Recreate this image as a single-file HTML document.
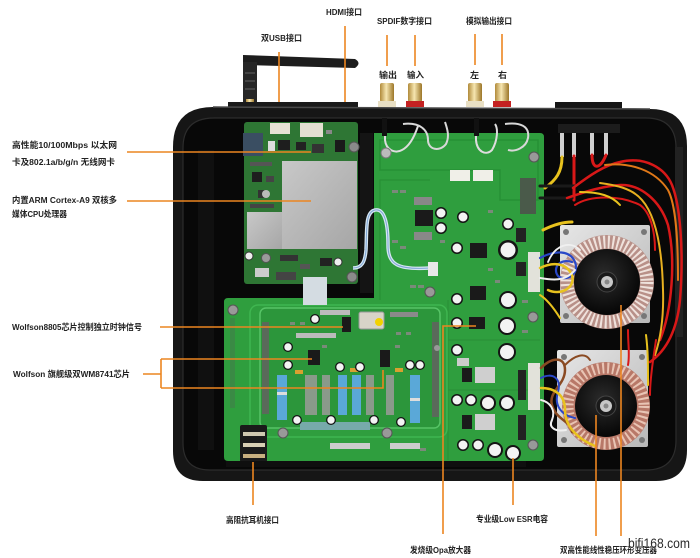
<!DOCTYPE html>
<html><head><meta charset="utf-8">
<style>
html,body{margin:0;padding:0;background:#fff;}
svg{display:block;}
text{font-family:"Liberation Sans","Noto Sans CJK SC",sans-serif;font-size:8.6px;font-weight:bold;fill:#222;}
</style></head><body>
<svg width="700" height="558" viewBox="0 0 700 558" xmlns="http://www.w3.org/2000/svg">
<defs>
<linearGradient id="gold" x1="0" x2="1" y1="0" y2="0">
<stop offset="0" stop-color="#b08a3a"/><stop offset="0.45" stop-color="#f6e6b0"/><stop offset="1" stop-color="#9c7628"/>
</linearGradient>
<linearGradient id="shield" x1="0" y1="0" x2="1" y2="1"><stop offset="0" stop-color="#c8c8c8"/><stop offset="1" stop-color="#a6a6a6"/></linearGradient>
<radialGradient id="disk" cx="0.45" cy="0.4" r="0.6"><stop offset="0" stop-color="#2c2c2c"/><stop offset="1" stop-color="#060606"/></radialGradient>
<linearGradient id="plate" x1="0" y1="0" x2="1" y2="1"><stop offset="0" stop-color="#e6e6e6"/><stop offset="1" stop-color="#b8b8b8"/></linearGradient>
</defs>
<rect width="700" height="558" fill="#fff"/>

<!-- antenna -->
<path d="M243,55 L355,59 Q362,63 355,68 L243,65 Z" fill="#1d1d1d"/>
<rect x="243" y="62" width="14" height="40" fill="#262626"/>
<rect x="245" y="72" width="10" height="2" fill="#444"/><rect x="245" y="80" width="10" height="2" fill="#444"/><rect x="245" y="88" width="10" height="2" fill="#444"/>
<rect x="246" y="99" width="8" height="7" fill="url(#gold)"/>

<!-- RCA jacks -->
<rect x="380" y="83" width="14" height="19" rx="2" fill="url(#gold)"/><rect x="378" y="101" width="18" height="6" fill="#e8dfc4"/>
<rect x="408" y="83" width="14" height="19" rx="2" fill="url(#gold)"/><rect x="406" y="101" width="18" height="6" fill="#c42222"/>
<rect x="468" y="83" width="14" height="19" rx="2" fill="url(#gold)"/><rect x="466" y="101" width="18" height="6" fill="#e8dfc4"/>
<rect x="495" y="83" width="14" height="19" rx="2" fill="url(#gold)"/><rect x="493" y="101" width="18" height="6" fill="#c42222"/>
<rect x="555" y="102" width="67" height="9" fill="#161616"/>
<rect x="228" y="102" width="130" height="5" fill="#1a1a1a"/>

<!-- case -->
<path d="M213,107 L650,109 Q687,109 687,146 L687,450 Q687,481 656,481 L203,481 Q173,481 173,451 L173,147 Q173,107 213,107 Z" fill="#161616"/>
<path d="M213,107 L650,109" stroke="#4a4a4a" stroke-width="1.5" fill="none"/>
<path d="M214,118 L646,118 Q676,118 676,148 L676,440 Q676,470 646,470 L210,470 Q183,470 183,443 L183,148 Q183,118 214,118 Z" fill="#080808" stroke="#2c2c2c" stroke-width="1.2"/>
<rect x="198" y="150" width="16" height="300" fill="#101010"/>
<rect x="675" y="147" width="8" height="190" fill="#222"/>

<!-- network board -->
<rect x="244" y="122" width="114" height="162" rx="3" fill="#2e7634"/>
<rect x="270" y="123" width="20" height="11" fill="#e6e2d4"/>
<rect x="300" y="123" width="23" height="14" fill="#e4e0d2"/>
<rect x="243" y="133" width="20" height="23" fill="#3a4e62"/>
<rect x="268" y="141" width="7" height="10" fill="#ddd"/>
<rect x="278" y="140" width="12" height="10" fill="#1e1e1e"/>
<rect x="296" y="142" width="10" height="8" fill="#222"/>
<rect x="312" y="144" width="12" height="9" fill="#333"/>
<rect x="335" y="140" width="10" height="12" fill="#1a1a1a"/>
<rect x="326" y="130" width="6" height="4" fill="#888"/>
<rect x="250" y="162" width="22" height="4" fill="#555"/>
<rect x="252" y="172" width="10" height="10" fill="#1e1e1e"/>
<rect x="266" y="176" width="8" height="6" fill="#444"/>
<rect x="258" y="190" width="8" height="8" fill="#333"/>
<circle cx="266" cy="194" r="4" fill="#bbb"/>
<rect x="250" y="204" width="24" height="4" fill="#444"/>
<rect x="282" y="161" width="75" height="88" fill="url(#shield)"/>
<rect x="247" y="212" width="35" height="37" fill="url(#shield)"/>
<circle cx="354" cy="147" r="5" fill="#8a8a8a" stroke="#555"/>
<circle cx="266" cy="258" r="4.5" fill="#9a9a9a" stroke="#555"/>
<circle cx="352" cy="277" r="5" fill="#8a8a8a" stroke="#555"/>
<circle cx="249" cy="256" r="4" fill="#eee" stroke="#333"/>
<circle cx="338" cy="262" r="4" fill="#eee" stroke="#333"/>
<rect x="280" y="255" width="18" height="6" fill="#333"/>
<rect x="255" y="268" width="14" height="9" fill="#ccc"/>
<rect x="276" y="272" width="20" height="8" fill="#444"/>
<rect x="320" y="258" width="12" height="8" fill="#222"/>
<rect x="300" y="264" width="10" height="5" fill="#555"/>
<rect x="360" y="133" width="13" height="160" fill="#141414"/>

<!-- main board -->
<path d="M374,133 L540,133 Q544,133 544,137 L544,457 Q544,461 540,461 L228,461 Q224,461 224,457 L224,302 Q224,298 228,298 L374,298 Z" fill="#2f9e3e"/>
<path d="M380,140 L538,140 L538,200 L500,200 L500,170 L380,170 Z" fill="none" stroke="#279035" stroke-width="1.5"/>
<path d="M380,300 L380,180 L430,180" fill="none" stroke="#279035" stroke-width="1.2"/>
<path d="M448,300 L448,460 M448,340 L540,340 M448,390 L540,390" fill="none" stroke="#2a9238" stroke-width="1.2"/>
<rect x="250" y="305" width="197" height="132" rx="8" fill="none" stroke="#3fb650" stroke-width="1.5"/>
<rect x="260" y="308" width="180" height="120" rx="6" fill="#2c963b" stroke="#56c466" stroke-width="1.5"/>
<rect x="262" y="322" width="7" height="92" fill="#5a6a5a"/>
<rect x="432" y="322" width="7" height="95" fill="#5a6a5a"/>
<rect x="230" y="318" width="5" height="90" fill="#3a8a45"/>

<!-- small smd texture -->
<g fill="#7a8a7a">
<rect x="392" y="190" width="6" height="3"/><rect x="400" y="190" width="6" height="3"/><rect x="392" y="240" width="6" height="3"/><rect x="400" y="246" width="6" height="3"/>
<rect x="440" y="240" width="5" height="3"/><rect x="488" y="210" width="5" height="3"/><rect x="488" y="268" width="5" height="3"/><rect x="495" y="280" width="5" height="3"/>
<rect x="410" y="285" width="6" height="3"/><rect x="418" y="285" width="6" height="3"/><rect x="522" y="300" width="6" height="3"/><rect x="522" y="330" width="6" height="3"/>
<rect x="290" y="322" width="5" height="3"/><rect x="300" y="322" width="5" height="3"/><rect x="396" y="332" width="5" height="3"/><rect x="406" y="332" width="5" height="3"/>
<rect x="322" y="345" width="5" height="3"/><rect x="395" y="345" width="5" height="3"/><rect x="240" y="440" width="5" height="3"/><rect x="420" y="448" width="6" height="3"/>
</g>

<!-- ribbon cable & blue cable -->
<rect x="303" y="277" width="24" height="28" fill="#d4dce2"/>
<path d="M353,268 C362,268 365,262 366,250 C367,230 365,212 375,210 C385,208 388,225 388,245 C388,265 398,270 430,268" fill="none" stroke="#d6e6f2" stroke-width="3.5"/>
<path d="M353,268 C362,268 365,262 366,250 C367,230 365,212 375,210 C385,208 388,225 388,245 C388,265 398,270 430,268" fill="none" stroke="#7fa6d6" stroke-width="1"/>
<rect x="428" y="262" width="10" height="14" fill="#e8e8e8"/>

<!-- wire loops top of main board -->
<path d="M385,120 L385,140 C386,150 395,154 402,150 C410,146 415,135 418,126" fill="none" stroke="#ddd" stroke-width="2"/>
<path d="M403,124 C420,122 428,130 428,140 C428,150 440,152 446,144 C450,136 447,128 445,122" fill="none" stroke="#d8d8d8" stroke-width="2"/>
<path d="M476,120 L476,140 C477,152 486,156 492,150 C498,140 498,128 495,124" fill="none" stroke="#ddd" stroke-width="2"/>
<path d="M505,124 C520,122 530,126 528,138 C526,148 515,152 508,150" fill="none" stroke="#d8d8d8" stroke-width="2"/>
<rect x="382" y="118" width="5" height="18" fill="#111"/><rect x="474" y="118" width="5" height="18" fill="#111"/>
<circle cx="386" cy="153" r="5" fill="#bbb" stroke="#777"/>
<circle cx="534" cy="157" r="5" fill="#999" stroke="#555"/>
<rect x="450" y="170" width="20" height="11" fill="#f0efe8"/>
<rect x="473" y="170" width="20" height="11" fill="#f0efe8"/>
<rect x="520" y="178" width="16" height="36" fill="#4a5a4a"/>
<rect x="414" y="197" width="18" height="8" fill="#888"/>
<rect x="415" y="210" width="18" height="16" fill="#1a1a1a"/>
<rect x="414" y="232" width="18" height="8" fill="#888"/>
<rect x="470" y="243" width="17" height="15" fill="#1a1a1a"/>
<rect x="470" y="286" width="16" height="14" fill="#1a1a1a"/>
<rect x="469" y="317" width="16" height="12" fill="#1a1a1a"/>
<rect x="516" y="228" width="10" height="14" fill="#222"/>
<rect x="516" y="262" width="10" height="14" fill="#222"/>
<rect x="475" y="367" width="20" height="16" fill="#cfcfcf"/>
<rect x="475" y="414" width="20" height="16" fill="#cfcfcf"/>
<rect x="462" y="368" width="10" height="14" fill="#1a1a1a"/>
<rect x="462" y="415" width="10" height="14" fill="#1a1a1a"/>
<rect x="457" y="358" width="12" height="8" fill="#ccc"/>
<rect x="518" y="370" width="8" height="30" fill="#222"/>
<rect x="518" y="415" width="8" height="25" fill="#222"/>
<rect x="528" y="252" width="12" height="40" fill="#e2e2da"/>
<rect x="528" y="363" width="12" height="47" fill="#e2e2da"/>
<circle cx="430" cy="292" r="5" fill="#999" stroke="#555"/>
<circle cx="533" cy="317" r="5" fill="#999" stroke="#555"/>
<circle cx="533" cy="445" r="5" fill="#999" stroke="#555"/>
<circle cx="233" cy="310" r="5" fill="#999" stroke="#555"/>
<circle cx="283" cy="433" r="5" fill="#999" stroke="#555"/>
<circle cx="387" cy="433" r="5" fill="#999" stroke="#555"/>
<circle cx="437" cy="348" r="3" fill="#999"/>

<!-- daughter board parts -->
<rect x="359" y="312" width="25" height="17" rx="2" fill="#d8d4c8" stroke="#999"/>
<circle cx="379" cy="322" r="4" fill="#f2d200"/>
<rect x="342" y="317" width="9" height="15" fill="#1a1a1a"/>
<rect x="308" y="350" width="12" height="15" fill="#1a1a1a"/>
<rect x="380" y="350" width="10" height="17" fill="#1a1a1a"/>
<rect x="296" y="333" width="40" height="5" fill="#bbb"/>
<rect x="320" y="310" width="30" height="5" fill="#bbb"/>
<rect x="390" y="312" width="28" height="5" fill="#8a8a8a"/>
<rect x="277" y="375" width="10" height="45" fill="#5aa8d8"/>
<rect x="277" y="392" width="10" height="3" fill="#ddd"/>
<rect x="338" y="375" width="9" height="40" fill="#5aa8d8"/>
<rect x="352" y="375" width="9" height="40" fill="#5aa8d8"/>
<rect x="410" y="375" width="10" height="48" fill="#5aa8d8"/>
<rect x="410" y="398" width="10" height="3" fill="#ddd"/>
<rect x="305" y="375" width="12" height="40" fill="#8a9a8a"/>
<rect x="322" y="375" width="8" height="40" fill="#8a9a8a"/>
<rect x="366" y="375" width="8" height="40" fill="#8a9a8a"/>
<rect x="386" y="375" width="8" height="40" fill="#8a9a8a"/>
<rect x="295" y="370" width="8" height="4" fill="#d8a030"/>
<rect x="350" y="368" width="8" height="4" fill="#d8a030"/>
<rect x="395" y="368" width="8" height="4" fill="#d8a030"/>
<rect x="300" y="422" width="70" height="8" fill="#7aa"/>
<rect x="330" y="443" width="40" height="6" fill="#ccc"/>
<rect x="390" y="443" width="30" height="6" fill="#ccc"/>

<!-- capacitors -->
<g fill="#141414">
<circle cx="315" cy="319" r="5"/><circle cx="288" cy="347" r="5"/><circle cx="288" cy="365" r="5"/>
<circle cx="340" cy="367" r="5"/><circle cx="360" cy="367" r="5"/><circle cx="410" cy="365" r="5"/><circle cx="420" cy="365" r="5"/>
<circle cx="297" cy="420" r="5"/><circle cx="331" cy="420" r="5"/><circle cx="374" cy="420" r="5"/><circle cx="401" cy="422" r="5"/>
<circle cx="441" cy="213" r="6"/><circle cx="441" cy="228" r="6"/><circle cx="463" cy="217" r="6"/><circle cx="508" cy="224" r="6"/>
<circle cx="457" cy="248" r="6"/><circle cx="508" cy="250" r="10"/><circle cx="508" cy="300" r="9"/><circle cx="457" cy="299" r="6"/>
<circle cx="507" cy="326" r="9"/><circle cx="457" cy="323" r="6"/><circle cx="507" cy="352" r="9"/><circle cx="457" cy="350" r="6"/>
<circle cx="457" cy="400" r="6"/><circle cx="471" cy="400" r="6"/><circle cx="488" cy="403" r="8"/><circle cx="507" cy="403" r="8"/>
<circle cx="463" cy="445" r="6"/><circle cx="478" cy="445" r="6"/><circle cx="495" cy="450" r="8"/><circle cx="513" cy="453" r="8"/>
</g>
<g fill="#f3f3f3">
<circle cx="315" cy="319" r="3.7"/><circle cx="288" cy="347" r="3.7"/><circle cx="288" cy="365" r="3.7"/>
<circle cx="340" cy="367" r="3.7"/><circle cx="360" cy="367" r="3.7"/><circle cx="410" cy="365" r="3.7"/><circle cx="420" cy="365" r="3.7"/>
<circle cx="297" cy="420" r="3.7"/><circle cx="331" cy="420" r="3.7"/><circle cx="374" cy="420" r="3.7"/><circle cx="401" cy="422" r="3.7"/>
<circle cx="441" cy="213" r="4.5"/><circle cx="441" cy="228" r="4.5"/><circle cx="463" cy="217" r="4.5"/><circle cx="508" cy="224" r="4.5"/>
<circle cx="457" cy="248" r="4.5"/><circle cx="508" cy="250" r="7.5"/><circle cx="508" cy="300" r="7"/><circle cx="457" cy="299" r="4.5"/>
<circle cx="507" cy="326" r="7"/><circle cx="457" cy="323" r="4.5"/><circle cx="507" cy="352" r="7"/><circle cx="457" cy="350" r="4.5"/>
<circle cx="457" cy="400" r="4.5"/><circle cx="471" cy="400" r="4.5"/><circle cx="488" cy="403" r="6"/><circle cx="507" cy="403" r="6"/>
<circle cx="463" cy="445" r="4.5"/><circle cx="478" cy="445" r="4.5"/><circle cx="495" cy="450" r="6"/><circle cx="513" cy="453" r="6"/>
</g>

<!-- headphone jack -->
<rect x="240" y="425" width="27" height="37" rx="2" fill="#1a1a1a"/>
<rect x="243" y="432" width="22" height="4" fill="#cfc8b0"/>
<rect x="243" y="443" width="22" height="4" fill="#d8cfb4"/>
<rect x="243" y="454" width="22" height="4" fill="#c8b080"/>
<rect x="226" y="461" width="300" height="6" fill="#0f0f0f"/>

<!-- right side: connector block and wires -->
<rect x="558" y="124" width="62" height="9" fill="#1c1c1c"/>
<g fill="#d0d0d0"><rect x="560" y="133" width="4" height="24"/><rect x="572" y="133" width="4" height="24"/><rect x="590" y="133" width="4" height="22"/><rect x="604" y="133" width="4" height="22"/></g>
<g fill="none" stroke-linecap="round">
<path d="M562,157 C562,172 556,180 545,188" stroke="#e8c21e" stroke-width="3"/>
<path d="M574,156 L574,200" stroke="#d81818" stroke-width="3"/>
<path d="M592,155 C592,170 600,170 606,155" stroke="#d81818" stroke-width="3"/>
<path d="M540,186 L575,186 M540,198 L572,198" stroke="#1a1a1a" stroke-width="3"/>
<path d="M573,188 C590,175 605,165 620,162 C645,156 665,168 672,185 C680,205 684,250 680,300 C676,340 660,355 650,362" stroke="#d81818" stroke-width="2.5"/>
<path d="M567,198 C590,190 605,186 620,185 C640,184 660,200 668,225 C676,260 672,310 660,340" stroke="#d81818" stroke-width="2.5"/>
<path d="M575,205 C590,195 620,195 640,205 C650,212 655,230 655,250" stroke="#d81818" stroke-width="2"/>
<path d="M600,183 C615,185 632,188 642,200 C655,215 662,245 663,290 C664,320 660,340 655,355" stroke="#e8b020" stroke-width="2"/>
<path d="M605,165 C630,162 655,170 668,190 C676,205 678,240 678,280" stroke="#e07818" stroke-width="2"/>
<path d="M580,192 C600,192 612,196 620,205" stroke="#e8c21e" stroke-width="2"/>
<path d="M543,230 C555,224 565,222 572,222" stroke="#e8c21e" stroke-width="3"/>
</g>

<!-- transformer 1 -->
<rect x="560" y="225" width="90" height="98" rx="2" fill="url(#plate)"/>
<circle cx="566" cy="232" r="3" fill="#777"/><circle cx="644" cy="232" r="3" fill="#777"/><circle cx="566" cy="316" r="3" fill="#777"/><circle cx="644" cy="316" r="3" fill="#777"/>
<circle cx="607" cy="282" r="47" fill="#b89088"/>
<circle cx="607" cy="282" r="40" fill="none" stroke="#efe2dc" stroke-width="13" stroke-dasharray="2 2.5"/>
<circle cx="607" cy="282" r="33" fill="url(#disk)"/>
<circle cx="607" cy="282" r="10" fill="#1a1a1a" stroke="#444"/>
<circle cx="607" cy="282" r="6" fill="#c8c8c8"/>
<circle cx="607" cy="282" r="2.5" fill="#888"/>

<!-- transformer 2 -->
<rect x="557" y="350" width="91" height="97" rx="2" fill="url(#plate)"/>
<circle cx="564" cy="357" r="3" fill="#777"/><circle cx="642" cy="357" r="3" fill="#777"/><circle cx="564" cy="440" r="3" fill="#777"/><circle cx="642" cy="440" r="3" fill="#777"/>
<circle cx="606" cy="406" r="44" fill="#b87868"/>
<circle cx="606" cy="406" r="38" fill="none" stroke="#e8c4b4" stroke-width="11" stroke-dasharray="2 3"/>
<circle cx="606" cy="406" r="31" fill="url(#disk)"/>
<circle cx="606" cy="406" r="10" fill="#1a1a1a" stroke="#444"/>
<circle cx="606" cy="406" r="6" fill="#c8c8c8"/>
<circle cx="606" cy="406" r="2.5" fill="#888"/>

<!-- wires near transformers -->
<g fill="none" stroke-linecap="round">
<path d="M540,258 C555,250 570,250 575,262 C580,275 565,282 558,276 C552,268 560,258 572,262" stroke="#2a48c8" stroke-width="2.2"/>
<path d="M540,268 C552,262 566,262 572,275 C576,288 560,296 548,290" stroke="#e8c21e" stroke-width="2.5"/>
<path d="M540,278 C552,280 565,282 575,270" stroke="#f0f0f0" stroke-width="2"/>
<path d="M548,262 C555,245 570,240 580,250" stroke="#f0f0f0" stroke-width="1.8"/>
<path d="M540,295 C548,300 555,310 560,318" stroke="#e8c21e" stroke-width="2"/>
<path d="M541,368 C550,358 565,355 565,370 C565,385 548,392 552,405 C556,420 570,420 572,432" stroke="#8a4a22" stroke-width="2.5"/>
<path d="M541,378 C552,372 562,378 558,392 C554,404 560,415 575,418" stroke="#2a48c8" stroke-width="2"/>
<path d="M541,388 C555,388 565,395 565,410 C565,428 580,440 595,446" stroke="#e8c21e" stroke-width="2.5"/>
<path d="M541,400 C550,402 556,410 552,420 C548,428 556,432 566,430" stroke="#f0f0f0" stroke-width="2"/>
<path d="M565,365 C575,355 585,352 590,360" stroke="#8a4a22" stroke-width="2"/>
<path d="M628,330 C628,345 630,355 628,365" stroke="#d81818" stroke-width="2"/>
<path d="M646,335 C648,350 648,365 648,385" stroke="#e8c21e" stroke-width="2"/>
<path d="M656,340 C653,360 650,380 650,395" stroke="#d81818" stroke-width="2"/>
</g>

<!-- orange leader lines -->
<g fill="none" stroke="#ec8520" stroke-width="1.6">
<path d="M279,52 L279,102"/>
<path d="M345,26 L345,102"/>
<path d="M387,35 L387,66"/><path d="M415,35 L415,66"/>
<path d="M475,34 L475,65"/><path d="M502,34 L502,65"/>
<path d="M127,152 L311,152"/>
<path d="M127,201 L311,201"/>
<path d="M160,327 L343,327"/>
<path d="M143,374 L161,374 M161,359 L161,388 M161,359 L312,359 M161,388 L383,388 L383,370"/>
<path d="M476,326 L443,326 L443,534"/>
<path d="M253,462 L253,505"/>
<path d="M513,458 L513,505"/>
<path d="M596,415 L596,536"/>
<path d="M621,305 L621,536"/>
</g>

<!-- labels -->
<text x="326" y="15" textLength="36" lengthAdjust="spacingAndGlyphs">HDMI接口</text>
<text x="261" y="41" textLength="41" lengthAdjust="spacingAndGlyphs">双USB接口</text>
<text x="377" y="24" textLength="55" lengthAdjust="spacingAndGlyphs">SPDIF数字接口</text>
<text x="466" y="24" textLength="46" lengthAdjust="spacingAndGlyphs">模拟输出接口</text>
<text x="379" y="78" textLength="18" lengthAdjust="spacingAndGlyphs">输出</text>
<text x="407" y="78" textLength="17" lengthAdjust="spacingAndGlyphs">输入</text>
<text x="470" y="78" textLength="9" lengthAdjust="spacingAndGlyphs">左</text>
<text x="498" y="78" textLength="9" lengthAdjust="spacingAndGlyphs">右</text>
<text x="12" y="148" textLength="105" lengthAdjust="spacingAndGlyphs">高性能10/100Mbps 以太网</text>
<text x="12" y="165" textLength="103" lengthAdjust="spacingAndGlyphs">卡及802.1a/b/g/n 无线网卡</text>
<text x="12" y="203" textLength="105" lengthAdjust="spacingAndGlyphs">内置ARM Cortex-A9 双核多</text>
<text x="12" y="217" textLength="55" lengthAdjust="spacingAndGlyphs">媒体CPU处理器</text>
<text x="12" y="330" textLength="130" lengthAdjust="spacingAndGlyphs">Wolfson8805芯片控制独立时钟信号</text>
<text x="13" y="377" textLength="117" lengthAdjust="spacingAndGlyphs">Wolfson 旗舰级双WM8741芯片</text>
<text x="226" y="523" textLength="53" lengthAdjust="spacingAndGlyphs">高阻抗耳机接口</text>
<text x="476" y="522" textLength="72" lengthAdjust="spacingAndGlyphs">专业级Low ESR电容</text>
<text x="410" y="553" textLength="61" lengthAdjust="spacingAndGlyphs">发烧级Opa放大器</text>
<text x="560" y="553" textLength="97" lengthAdjust="spacingAndGlyphs">双高性能线性稳压环形变压器</text>
<text x="628" y="548" textLength="62" lengthAdjust="spacingAndGlyphs" style="font-size:14px;font-weight:normal;fill:#2a2a2a;stroke:#fff;stroke-width:0.6;paint-order:stroke;">bifi168.com</text>
</svg>
</body></html>
